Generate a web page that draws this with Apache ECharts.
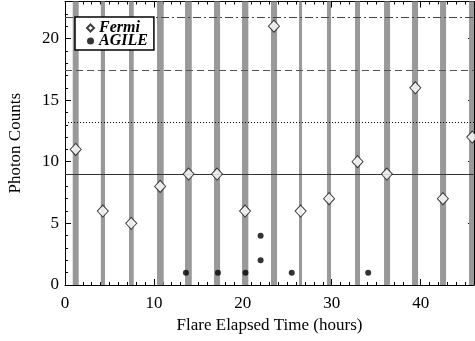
<!DOCTYPE html>
<html>
<head>
<meta charset="utf-8">
<script src="https://cdn.jsdelivr.net/npm/echarts@6/dist/echarts.min.js"></script>
<style>
  html, body { margin: 0; padding: 0; background: #fff; }
  #chart { width: 475px; height: 341px; }
</style>
</head>
<body>
<div id="chart"></div>
<script>
// exposure windows (hours)
const bandStart = [0.87, 4.03, 7.2, 10.35, 13.5, 16.76, 19.91, 23.17, 26.32, 29.47, 32.62, 35.88, 39.03, 42.18, 45.44];
const bandEnd   = [1.54, 4.5, 7.73, 11.1, 14.26, 17.44, 20.62, 23.85, 26.66, 29.92, 33.18, 36.56, 39.71, 42.86, 46.1];

const fermiTime   = [1.2, 4.25, 7.45, 10.7, 13.9, 17.1, 20.25, 23.5, 26.5, 29.7, 32.9, 36.2, 39.4, 42.5, 45.8];
const fermiCounts = [11, 6, 5, 8, 9, 9, 6, 21, 6, 7, 10, 9, 16, 7, 12];

const agileTime   = [13.6, 17.2, 20.3, 22.0, 22.0, 25.5, 34.1];
const agileCounts = [1, 1, 1, 4, 2, 1, 1];

// horizontal reference levels
const levelValues = [9, 13.2, 17.4, 21.7];
const levelStyles = ['solid', [1, 2], [7, 4], [8, 3, 2, 3]];
const levelColors = ['#333', '#000', '#555', '#444'];

const xTicks = [0, 10, 20, 30, 40];
const yTicks = [0, 5, 10, 15, 20];

const font = 'Liberation Serif';
const chart = echarts.init(document.getElementById('chart'));

const axisCommon = {
  axisLine: { show: true, onZero: false, lineStyle: { color: '#000', width: 1 } },
  axisTick: { show: true, inside: true, length: 6, lineStyle: { color: '#000' } },
  minorTick: { show: true, length: 3, lineStyle: { color: '#000' } },
  splitLine: { show: false },
  minorSplitLine: { show: false }
};

const option = {
  backgroundColor: '#fff',
  animation: false,
  grid: { left: 65, right: 1, top: 1.5, bottom: 56, containLabel: false, outerBoundsMode: 'none' },
  legend: {
    orient: 'vertical',
    left: 75,
    top: 17,
    data: ['Fermi', 'AGILE'],
    backgroundColor: '#fff',
    borderColor: '#000',
    borderWidth: 1.5,
    borderRadius: 0,
    padding: [3, 6, 1, 11],
    itemWidth: 7,
    itemHeight: 7,
    itemGap: -3,
    textStyle: { fontFamily: font, fontStyle: 'italic', fontWeight: 'bold', fontSize: 16, lineHeight: 13, color: '#000' }
  },
  xAxis: [
    Object.assign({}, axisCommon, {
      type: 'value', min: 0, max: 46, interval: 10,
      position: 'bottom',
      minorTick: Object.assign({}, axisCommon.minorTick, { splitNumber: 10 }),
      name: 'Flare Elapsed Time (hours)',
      nameLocation: 'middle',
      nameGap: 32,
      nameTextStyle: { fontFamily: font, fontSize: 17, color: '#000' },
      axisLabel: {
        fontFamily: font, fontSize: 17, color: '#000', margin: 10,
        showMaxLabel: false,
        formatter: v => xTicks.includes(v) ? String(v) : ''
      }
    }),
    Object.assign({}, axisCommon, {
      type: 'value', min: 0, max: 46, interval: 10,
      position: 'top',
      minorTick: Object.assign({}, axisCommon.minorTick, { splitNumber: 10 }),
      axisLabel: { show: false }
    })
  ],
  yAxis: [
    Object.assign({}, axisCommon, {
      type: 'value', min: 0, max: 23, interval: 5,
      position: 'left',
      minorTick: Object.assign({}, axisCommon.minorTick, { splitNumber: 5 }),
      name: 'Photon Counts',
      nameLocation: 'middle',
      nameGap: 41,
      nameTextStyle: { fontFamily: font, fontSize: 17, color: '#000' },
      axisLabel: {
        fontFamily: font, fontSize: 17, color: '#000', margin: 6,
        showMaxLabel: false,
        formatter: v => yTicks.includes(v) ? String(v) : ''
      }
    }),
    Object.assign({}, axisCommon, {
      type: 'value', min: 0, max: 23, interval: 5,
      position: 'right',
      minorTick: Object.assign({}, axisCommon.minorTick, { splitNumber: 5 }),
      axisLabel: { show: false }
    })
  ],
  series: [
    {
      name: 'bands',
      type: 'line',
      data: [],
      silent: true,
      z: 1,
      markArea: {
        silent: true,
        itemStyle: { color: '#999' },
        data: bandStart.map((s, i) => [{ xAxis: s }, { xAxis: bandEnd[i] }])
      }
    },
    {
      name: 'levels',
      type: 'line',
      data: [],
      silent: true,
      z: 2,
      markLine: {
        silent: true,
        symbol: 'none',
        label: { show: false },
        animation: false,
        data: levelValues.map((v, i) => ({
          yAxis: v,
          lineStyle: { type: levelStyles[i], color: levelColors[i], width: 1 }
        }))
      }
    },
    {
      name: 'Fermi',
      type: 'scatter',
      z: 5,
      symbol: 'diamond',
      symbolSize: [11, 12],
      data: fermiTime.map((t, i) => [t, fermiCounts[i]]),
      itemStyle: { color: '#fff', borderColor: '#111', borderWidth: 1 }
    },
    {
      name: 'AGILE',
      type: 'scatter',
      z: 5,
      symbol: 'circle',
      symbolSize: 6,
      data: agileTime.map((t, i) => [t, agileCounts[i]]),
      itemStyle: { color: '#000' }
    }
  ]
};

chart.setOption(option);
</script>
</body>
</html>
